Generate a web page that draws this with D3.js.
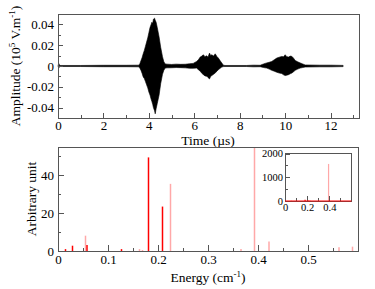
<!DOCTYPE html>
<html lang="en">
	<head>
		<meta charset="utf-8">
		<title>Signal and spectrum</title>
		<script type="text/javascript" src="https://d3js.org/d3.v7.min.js"></script>
		<style type="text/css">
			body{
				margin: 0;
				background: #fff;
			}
			text{
				font-family: "Liberation Serif", "DejaVu Serif", serif;
			}
		</style>
	</head>
	<body>
		<script type="text/javascript">

			//Waveform envelope (time in us, amplitude in 10^5 V/m)
			var timeUs = [0, 0.03, 0.08, 1.0, 2.0, 3.0, 3.5, 3.55, 3.6, 3.65, 3.7, 3.75, 3.8, 3.85, 3.9, 3.95,
				4.0, 4.05, 4.1, 4.13, 4.17, 4.2, 4.25, 4.28, 4.32, 4.37, 4.45, 4.52, 4.6, 4.66, 4.72,
				4.8, 5.0, 5.2, 5.4, 5.6, 5.8, 5.95, 6.1, 6.18, 6.26, 6.33, 6.4, 6.47, 6.55, 6.6, 6.67,
				6.72, 6.77, 6.85, 6.92, 7.0, 7.06, 7.14, 7.21, 7.28, 7.35, 8.3, 8.6, 8.9, 9.05, 9.19,
				9.3, 9.41, 9.52, 9.63, 9.74, 9.85, 9.93, 10.0, 10.07, 10.15, 10.22, 10.3, 10.37, 10.44,
				10.55, 10.66, 10.77, 10.88, 11.5, 12.0, 12.55];
			var envUpper = [0, 0.0025, 0.0005, 0.0005, 0.0007, 0.0007, 0.0008, 0.0008, 0.002, 0.005, 0.008, 0.0117, 0.015, 0.019, 0.023, 0.027,
				0.032, 0.037, 0.040, 0.042, 0.041, 0.045, 0.046, 0.044, 0.042, 0.037, 0.028, 0.018, 0.009, 0.004, 0.002,
				0.0018, 0.0015, 0.0018, 0.0016, 0.0017, 0.0022, 0.0025, 0.0044, 0.006, 0.0086, 0.0095, 0.0108, 0.009, 0.0098, 0.0085, 0.0124,
				0.010, 0.0108, 0.0095, 0.0117, 0.009, 0.0076, 0.005, 0.0029, 0.0008, 0.0005, 0.0005, 0.0008, 0.0007, 0.002, 0.003,
				0.0036, 0.0044, 0.006, 0.0076, 0.0085, 0.0092, 0.0088, 0.0108, 0.009, 0.0086, 0.0095, 0.0092, 0.0075, 0.0054,
				0.004, 0.003, 0.002, 0.001, 0.0008, 0.0008, 0.0006];
			var envLower = [0, -0.002, -0.0005, -0.0005, -0.0007, -0.0007, -0.0008, -0.0008, -0.002, -0.004, -0.007, -0.0105, -0.012, -0.015, -0.018, -0.021,
				-0.025, -0.028, -0.032, -0.034, -0.037, -0.040, -0.043, -0.046, -0.041, -0.036, -0.028, -0.017, -0.008, -0.004, -0.002,
				-0.0018, -0.0017, -0.0015, -0.0016, -0.0018, -0.0022, -0.0022, -0.002, -0.0035, -0.005, -0.007, -0.0083, -0.0095, -0.0099, -0.011, -0.0124,
				-0.010, -0.0092, -0.008, -0.0067, -0.005, -0.0035, -0.0022, -0.001, -0.0006, -0.0005, -0.0005, -0.0008, -0.0007, -0.0015, -0.002,
				-0.003, -0.0042, -0.005, -0.006, -0.0068, -0.0073, -0.0085, -0.0092, -0.0088, -0.0083, -0.0075, -0.0067, -0.0055, -0.0042,
				-0.003, -0.002, -0.0015, -0.001, -0.0008, -0.0008, -0.0006];

			//Spectrum lines (energy in cm^-1, arbitrary unit)
			var redEnergy = [0.015, 0.029, 0.058, 0.127, 0.181, 0.209];
			var redValue = [1, 2.8, 3.2, 1, 49.5, 23.5];
			var pinkEnergy = [0.055, 0.163, 0.169, 0.225, 0.366, 0.393, 0.422, 0.562, 0.589];
			var pinkValue = [8.1, 1, 0.5, 35.5, 1, 1560, 5, 2, 2.3];

			//Tick labels
			var timeTicks = [0, 2, 4, 6, 8, 10, 12];
			var ampTicks = [-0.04, -0.02, 0, 0.02, 0.04];
			var energyTicks = [0, 0.1, 0.2, 0.3, 0.4, 0.5];
			var unitTicks = [0, 20, 40];
			var insetXTicks = [0, 0.2, 0.4];
			var insetYTicks = [0, 1000, 2000];

			var w = 375;
			var h = 289;
			var frameColor = "#555";
			var red = "#ff0000";
			var pink = "#ffa8a8";

			var svg = d3.select("body")
						.append("svg")
						.attr("width", w)
						.attr("height", h);

			//Draw a framed panel with inward ticks on left and bottom
			function panel(x, y, major, minor, opt) {
				var g = svg.append("g");
				var x0 = x.range()[0], x1 = x.range()[1];
				var y0 = y.range()[0], y1 = y.range()[1];

				g.append("g")
				 .attr("transform", "translate(0," + y0 + ")")
				 .call(d3.axisBottom(x).tickValues(minor.x).tickSize(-opt.minor).tickFormat(""));
				g.append("g")
				 .attr("transform", "translate(0," + y0 + ")")
				 .call(d3.axisBottom(x).tickValues(major.x).tickSize(-opt.major).tickPadding(opt.padX).tickFormat(opt.fmtX));
				g.append("g")
				 .attr("transform", "translate(" + x0 + ",0)")
				 .call(d3.axisLeft(y).tickValues(minor.y).tickSize(-opt.minor).tickFormat(""));
				g.append("g")
				 .attr("transform", "translate(" + x0 + ",0)")
				 .call(d3.axisLeft(y).tickValues(major.y).tickSize(-opt.major).tickPadding(opt.padY).tickFormat(opt.fmtY));

				g.selectAll(".domain").remove();
				g.selectAll(".tick line")
				 .attr("stroke", frameColor)
				 .attr("shape-rendering", "crispEdges");
				g.selectAll(".tick text")
				 .attr("font-size", opt.font)
				 .attr("fill", "#000");

				g.append("rect")
				 .attr("x", x0)
				 .attr("y", y1)
				 .attr("width", x1 - x0)
				 .attr("height", y0 - y1)
				 .attr("fill", "none")
				 .attr("stroke", frameColor)
				 .attr("shape-rendering", "crispEdges");
				return g;
			}

			var plain = function(d) { return String(d); };

			//Top panel: waveform
			var xTime = d3.scaleLinear().domain([0, 13.25]).range([58, 359]);
			var yAmp = d3.scaleLinear().domain([-0.05, 0.05]).range([118, 14]);

			var area = d3.area()
						 .x(function(d, i) { return xTime(timeUs[i]); })
						 .y0(function(d, i) { return yAmp(envLower[i]); })
						 .y1(function(d, i) { return yAmp(envUpper[i]); });

			svg.append("path")
			   .datum(timeUs)
			   .attr("d", area)
			   .attr("fill", "#000")
			   .attr("stroke", "#000")
			   .attr("stroke-width", 0.6);

			panel(xTime, yAmp,
				{x: timeTicks, y: ampTicks},
				{x: d3.range(0, 14), y: [-0.05, -0.03, -0.01, 0.01, 0.03, 0.05]},
				{major: 5, minor: 3, padX: 3, padY: 4, font: "13px", fmtX: plain, fmtY: plain});

			svg.append("text")
			   .attr("x", 208)
			   .attr("y", 145)
			   .attr("text-anchor", "middle")
			   .attr("font-size", "13.5px")
			   .text("Time (\u00b5s)");

			var ampLabel = svg.append("text")
			   .attr("transform", "translate(20,66) rotate(-90)")
			   .attr("text-anchor", "middle")
			   .attr("font-size", "13.5px");
			ampLabel.append("tspan").text("Amplitude (10");
			ampLabel.append("tspan").attr("font-size", "9px").attr("dy", -5).text("5");
			ampLabel.append("tspan").attr("dy", 5).text(" V.m");
			ampLabel.append("tspan").attr("font-size", "9px").attr("dy", -5).text("-1");
			ampLabel.append("tspan").attr("dy", 5).text(")");

			//Bottom panel: spectrum
			var xE = d3.scaleLinear().domain([0, 0.6]).range([58, 358]);
			var yU = d3.scaleLinear().domain([0, 55]).range([251, 147]);

			svg.append("clipPath").attr("id", "clipMain")
			   .append("rect").attr("x", 58).attr("y", 147).attr("width", 300).attr("height", 104);

			var spec = svg.append("g").attr("clip-path", "url(#clipMain)");

			spec.selectAll("line.pink")
				.data(pinkEnergy)
				.enter()
				.append("line")
				.attr("class", "pink")
				.attr("x1", function(d) { return xE(d); })
				.attr("x2", function(d) { return xE(d); })
				.attr("y1", yU(0))
				.attr("y2", function(d, i) { return yU(pinkValue[i]); })
				.attr("stroke", pink)
				.attr("stroke-width", 1.5);

			spec.selectAll("line.red")
				.data(redEnergy)
				.enter()
				.append("line")
				.attr("class", "red")
				.attr("x1", function(d) { return xE(d); })
				.attr("x2", function(d) { return xE(d); })
				.attr("y1", yU(0))
				.attr("y2", function(d, i) { return yU(redValue[i]); })
				.attr("stroke", red)
				.attr("stroke-width", 1.5);

			panel(xE, yU,
				{x: energyTicks, y: unitTicks},
				{x: d3.range(0, 0.6, 0.05), y: [10, 30, 50]},
				{major: 6, minor: 3, padX: 4, padY: 4, font: "13px", fmtX: plain, fmtY: plain});

			svg.append("text")
			   .attr("x", 208)
			   .attr("y", 282)
			   .attr("text-anchor", "middle")
			   .attr("font-size", "13.5px")
			   .call(function(t) {
			   		t.append("tspan").text("Energy (cm");
			   		t.append("tspan").attr("font-size", "9px").attr("dy", -5).text("-1");
			   		t.append("tspan").attr("dy", 5).text(")");
			   });

			svg.append("text")
			   .attr("transform", "translate(36,199) rotate(-90)")
			   .attr("text-anchor", "middle")
			   .attr("font-size", "13.5px")
			   .text("Arbitrary unit");

			//Inset: full range of the spectrum
			var xI = d3.scaleLinear().domain([0, 0.6]).range([285, 351.5]);
			var yI = d3.scaleLinear().domain([0, 2000]).range([201, 153.5]);

			svg.append("rect")
			   .attr("x", 285).attr("y", 153.5).attr("width", 66.5).attr("height", 47.5)
			   .attr("fill", "#fff");

			var inset = svg.append("g");
			inset.selectAll("line.pink")
				 .data(pinkEnergy)
				 .enter()
				 .append("line")
				 .attr("x1", function(d) { return xI(d); })
				 .attr("x2", function(d) { return xI(d); })
				 .attr("y1", yI(0))
				 .attr("y2", function(d, i) { return yI(pinkValue[i]); })
				 .attr("stroke", pink)
				 .attr("stroke-width", 1.2);
			inset.selectAll("line.red")
				 .data(redEnergy)
				 .enter()
				 .append("line")
				 .attr("x1", function(d) { return xI(d); })
				 .attr("x2", function(d) { return xI(d); })
				 .attr("y1", yI(0))
				 .attr("y2", function(d, i) { return yI(redValue[i]); })
				 .attr("stroke", red)
				 .attr("stroke-width", 1.2);

			panel(xI, yI,
				{x: insetXTicks, y: insetYTicks},
				{x: [0.1, 0.3, 0.5], y: [500, 1500]},
				{major: 5, minor: 3, padX: 3, padY: 2, font: "10.5px", fmtX: plain, fmtY: plain});

			//Baseline of the spectrum drawn over the inset frame
			svg.append("line")
			   .attr("x1", xI(0)).attr("x2", xI(0.6))
			   .attr("y1", yI(0)).attr("y2", yI(0))
			   .attr("stroke", red)
			   .attr("stroke-width", 1.2);

		</script>
	</body>
</html>
